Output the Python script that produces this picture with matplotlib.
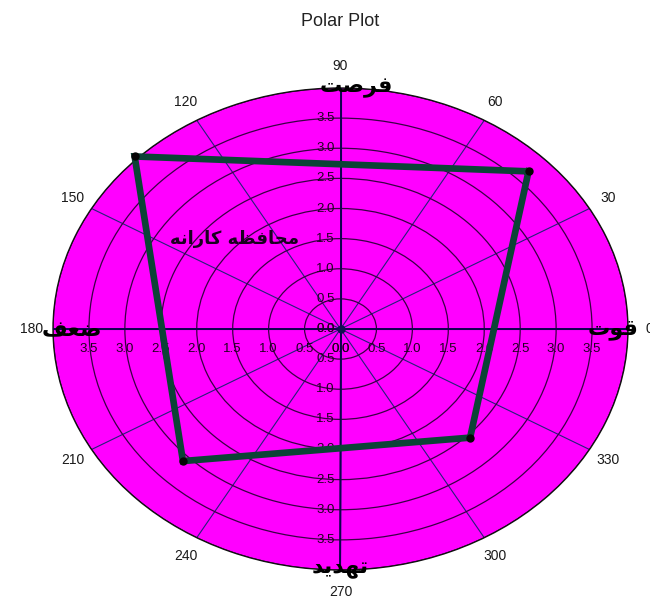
import numpy as np
import matplotlib
matplotlib.use("Agg")
import matplotlib.pyplot as plt
from matplotlib.transforms import offset_copy

# ---- data ----
angles_deg = [45, 135, 225, 315]
radii = [3.7, 4.05, 3.1, 2.55]
theta_ticks = list(range(0, 360, 30))
r_ticks = [0.0, 0.5, 1.0, 1.5, 2.0, 2.5, 3.0, 3.5]
# Persian labels, written in visual order with Arabic presentation forms
label_strength = "\uFE95\uFEEE\uFED7"            # قوت
label_weakness = "\uFED2\uFECC\uFEBF"            # ضعف
label_opportunity = "\uFE96\uFEBB\uFEAE\uFED3"   # فرصت
label_threat = "\uFEAA\uFEF3\uFEAA\uFEEC\uFE97"  # تهدید
label_strategy = "\uFEEA\uFEE7\uFE8D\uFEAD\uFE8E\uFB90 \uFEEA\uFEC8\uFED3\uFE8E\uFEA4\uFEE3"  # محافظه کارانه
title = "Polar Plot"

plt.rcParams['font.family'] = ['Liberation Sans', 'DejaVu Sans']

W, H = 650, 598
fig = plt.figure(figsize=(W / 100, H / 100), dpi=100)
ax = fig.add_axes([53 / W, 28 / H, 575 / W, 482 / H], projection='polar')
ax.set_aspect('auto')
ax.set_facecolor('#ff00ff')
ax.set_ylim(0, 4)
ax.set_rticks([r for r in np.arange(0.5, 4.01, 0.5)])
ax.set_yticklabels([])
ax.set_thetagrids(theta_ticks, [str(t) for t in theta_ticks])
ax.tick_params(axis='x', pad=5, labelsize=10, labelcolor='#1a1a1a')
ax.yaxis.grid(True, color='#3a0045', lw=0.9)
ax.xaxis.grid(True, color='#25207a', lw=0.8)
ax.spines['polar'].set_color('#111111')
ax.spines['polar'].set_linewidth(1.0)

# main axes lines
for a in [0, 90, 180, 270]:
    ax.plot([np.deg2rad(a), np.deg2rad(a)], [0, 4], color='#100050', lw=1.4, zorder=3)
ax.plot([0], [0], 'o', color='#101050', ms=5, zorder=4)

# radial tick labels
lab_kw = dict(fontsize=9.5, color='#200020', zorder=5)
t_down = offset_copy(ax.transData, fig=fig, x=0, y=-20, units='dots')
t_left = offset_copy(ax.transData, fig=fig, x=-15, y=0, units='dots')
for r in r_ticks:
    for a in [0, 180]:
        ax.text(np.deg2rad(a), r, f"{r:.1f}", transform=t_down, ha='center', va='center', **lab_kw)
    for a in [90, 270]:
        ax.text(np.deg2rad(a), r, f"{r:.1f}", transform=t_left, ha='center', va='center', **lab_kw)

# data polygon
th = np.deg2rad(angles_deg + angles_deg[:1])
rr = radii + radii[:1]
ax.plot(th, rr, color='#0c4336', lw=4.8, zorder=6, clip_on=False, solid_joinstyle='miter')
ax.plot(th[:-1], rr[:-1], 'o', color='#050505', ms=5, zorder=7, clip_on=False)

# Persian labels
fa_kw = dict(fontfamily='DejaVu Sans', fontweight='bold', fontsize=16, color='black',
             ha='center', va='center', zorder=8)
fig.text(356 / W, 1 - 88 / H, label_opportunity, **fa_kw)
fig.text(613 / W, 1 - 330 / H, label_strength, **fa_kw)
fig.text(72 / W, 1 - 330 / H, label_weakness, **fa_kw)
fig.text(340 / W, 1 - 569 / H, label_threat, **fa_kw)
fig.text(235 / W, 1 - 239 / H, label_strategy, fontfamily='DejaVu Sans', fontweight='bold',
         fontsize=13, color='#1a0020', ha='center', va='center', zorder=8)

fig.text(340 / W, 1 - 22 / H, title, ha='center', va='center', fontsize=13, color='#222222')

fig.savefig('out.png', dpi=100)
